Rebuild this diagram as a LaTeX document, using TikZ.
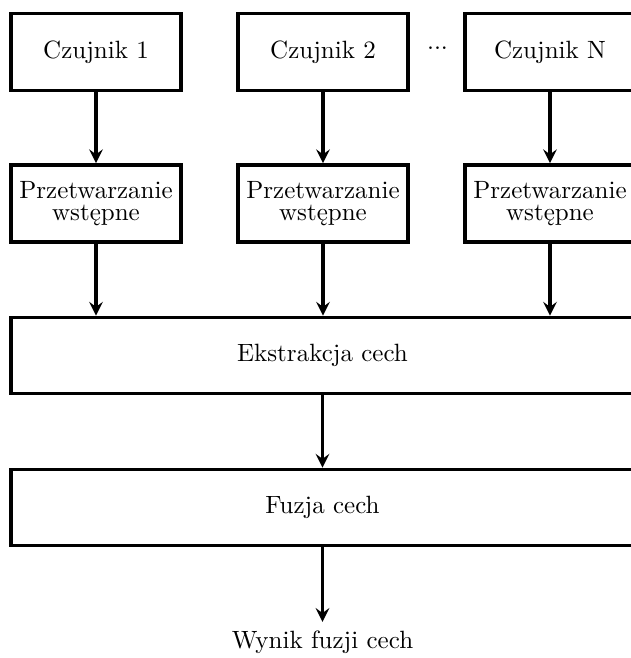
\documentclass[tikz,border=0pt]{standalone}
\usetikzlibrary{arrows.meta}
\begin{document}
\begin{tikzpicture}[x=0.4pt,y=-0.4pt,
  box/.style={draw,line width=1.5pt,rectangle,align=center,inner sep=1pt,
    minimum width=68pt,minimum height=30.8pt},
  wide/.style={draw,line width=1.5pt,rectangle,align=center,
    minimum width=249pt,minimum height=30.4pt},
  flow/.style={line width=1.5pt,-{Stealth[length=5.5pt,width=5.5pt,inset=2pt]}}]
\useasboundingbox (0,0) rectangle (631,658);
\clip (0,0) rectangle (631,658);
\node[box] (c1) at (96,52) {Czujnik 1};
\node[box] (c2) at (323,52) {Czujnik 2};
\node[box] (cn) at (550,52) {Czujnik N};
\node (dots) at (437.5,48) {...};
\node[box] (p1) at (96,203.5) {Przetwarzanie\\[-3pt]wstępne};
\node[box] (p2) at (323,203.5) {Przetwarzanie\\[-3pt]wstępne};
\node[box] (pn) at (550,203.5) {Przetwarzanie\\[-3pt]wstępne};
\node[wide] (ex) at (322.5,355.5) {Ekstrakcja cech};
\node[wide] (fu) at (322.5,507.5) {Fuzja cech};
\node (out) at (322.5,642) {Wynik fuzji cech};
\draw[flow] (c1) -- (p1);
\draw[flow] (c2) -- (p2);
\draw[flow] (cn) -- (pn);
\draw[flow] (p1) -- (p1 |- ex.north);
\draw[flow] (p2) -- (p2 |- ex.north);
\draw[flow] (pn) -- (pn |- ex.north);
\draw[flow] (ex) -- (fu);
\draw[flow] (fu) -- (out);
\end{tikzpicture}
\end{document}
